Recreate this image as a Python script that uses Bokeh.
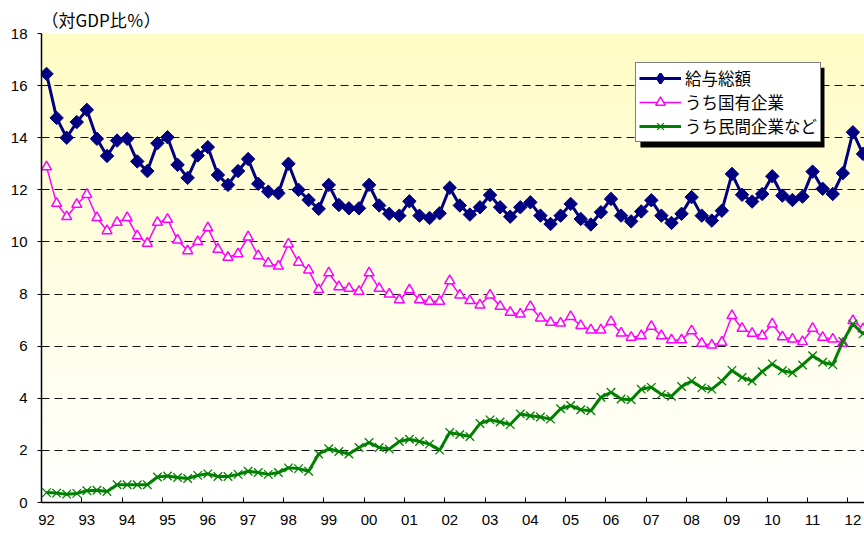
import numpy as np
from bokeh.plotting import figure
from bokeh.models import Range1d, FixedTicker, Legend, LegendItem, BoxAnnotation
from bokeh.embed import file_html
from bokeh.resources import INLINE

# ---- data (quarterly, 1992Q1 .. 2012Q2) ----
years = ["92", "93", "94", "95", "96", "97", "98", "99", "00", "01", "02",
         "03", "04", "05", "06", "07", "08", "09", "10", "11", "12"]
quarters = [f"{y}Q{q}" for y in years for q in (1, 2, 3, 4)][:82]

total = [16.45, 14.76, 14.0, 14.6, 15.07, 13.96, 13.3, 13.89, 13.96, 13.09,
         12.72, 13.79, 14.02, 12.96, 12.46, 13.32, 13.64, 12.57, 12.19, 12.72,
         13.18, 12.23, 11.93, 11.87, 13.0, 12.0, 11.61, 11.27, 12.19, 11.42,
         11.29, 11.29, 12.19, 11.4, 11.08, 11.01, 11.56, 11.01, 10.92, 11.1,
         12.08, 11.4, 11.05, 11.33, 11.8, 11.33, 10.97, 11.33, 11.52, 11.01,
         10.69, 11.01, 11.46, 10.88, 10.67, 11.14, 11.65, 11.01, 10.79, 11.17,
         11.6, 11.01, 10.73, 11.08, 11.72, 11.01, 10.82, 11.2, 12.61, 11.81,
         11.55, 11.84, 12.52, 11.78, 11.61, 11.74, 12.7, 12.04, 11.84, 12.64,
         14.21, 13.38]

state = [12.88, 11.48, 10.97, 11.44, 11.82, 10.93, 10.43, 10.75, 10.93, 10.23,
         9.95, 10.75, 10.87, 10.07, 9.66, 10.01, 10.54, 9.72, 9.41, 9.54,
         10.19, 9.47, 9.19, 9.07, 9.92, 9.22, 8.92, 8.17, 8.81, 8.28,
         8.22, 8.1, 8.81, 8.22, 8.0, 7.78, 8.16, 7.78, 7.72, 7.72,
         8.51, 7.96, 7.75, 7.58, 7.96, 7.53, 7.3, 7.23, 7.52, 7.08,
         6.91, 6.88, 7.13, 6.79, 6.62, 6.62, 6.94, 6.5, 6.34, 6.4,
         6.76, 6.4, 6.24, 6.24, 6.59, 6.11, 6.04, 6.15, 7.17, 6.68,
         6.49, 6.4, 6.85, 6.36, 6.27, 6.17, 6.68, 6.34, 6.27, 6.11,
         6.98, 6.66]

private = [0.38, 0.36, 0.32, 0.35, 0.45, 0.47, 0.42, 0.68, 0.68, 0.68,
           0.68, 0.98, 1.02, 0.96, 0.92, 1.04, 1.1, 1.0, 1.0, 1.08,
           1.2, 1.15, 1.08, 1.15, 1.33, 1.3, 1.2, 1.86, 2.06, 1.96,
           1.86, 2.11, 2.3, 2.11, 2.05, 2.34, 2.43, 2.34, 2.24, 2.01,
           2.69, 2.61, 2.53, 3.03, 3.17, 3.09, 2.99, 3.4, 3.33, 3.28,
           3.2, 3.6, 3.72, 3.56, 3.52, 4.04, 4.23, 3.97, 3.94, 4.35,
           4.42, 4.15, 4.08, 4.45, 4.66, 4.4, 4.35, 4.66, 5.07, 4.8,
           4.66, 5.02, 5.32, 5.06, 4.98, 5.28, 5.63, 5.38, 5.29, 6.18,
           6.85, 6.47]

series_names = ["給与総額", "うち国有企業", "うち民間企業など"]
y_ticks = [0, 2, 4, 6, 8, 10, 12, 14, 16, 18]
unit_label = "（対GDP比％）"

x = list(range(len(quarters)))

p = figure(width=864, height=536, output_backend="svg", toolbar_location=None,
           x_range=Range1d(-0.5, 81.15), y_range=Range1d(0, 18),
           min_border_left=41, min_border_right=0, min_border_top=33,
           min_border_bottom=34)
p.background_fill_color = "white"
p.border_fill_color = "white"
p.outline_line_color = None

# background gradient (light yellow at top -> white at bottom)
n = 470
t = np.linspace(0.0, 1.0, n)[:, None]
top_c = np.array([255, 252, 196])
bot_c = np.array([255, 255, 255])
cols = (bot_c * (1 - t) + top_c * t).round().astype(np.uint8)
img = np.empty((n, 1), dtype=np.uint32)
view = img.view(dtype=np.uint8).reshape((n, 1, 4))
view[:, 0, 0] = cols[:, 0]
view[:, 0, 1] = cols[:, 1]
view[:, 0, 2] = cols[:, 2]
view[:, 0, 3] = 255
bg = p.image_rgba(image=[img], x=-0.5, y=0, dw=82, dh=18)
bg.level = "image"

# grid
p.xgrid.grid_line_color = None
p.ygrid.grid_line_color = "#111111"
p.ygrid.grid_line_dash = "8 5"
p.ygrid.grid_line_width = 1

# y axis
p.yaxis.ticker = FixedTicker(ticks=y_ticks)
p.yaxis.major_tick_out = 4
p.yaxis.major_tick_in = 0
p.yaxis.minor_tick_out = 0
p.yaxis.minor_tick_in = 0
p.yaxis.axis_line_width = 1.5
p.yaxis.axis_line_color = "black"
p.yaxis.major_label_text_font = "Liberation Sans"
p.yaxis.major_label_text_font_size = "15px"
p.yaxis.major_label_text_color = "black"
p.yaxis.major_label_standoff = 10

# x axis: labels at each Q1, ticks at year boundaries
label_pos = list(range(0, len(quarters), 4))
p.xaxis.ticker = FixedTicker(ticks=label_pos,
                             minor_ticks=[v - 0.5 for v in label_pos] + [label_pos[-1] + 3.5])
p.xaxis.major_label_overrides = {i: quarters[i][:2] for i in label_pos}
p.xaxis.major_tick_in = 0
p.xaxis.major_tick_out = 0
p.xaxis.minor_tick_in = 5
p.xaxis.minor_tick_out = 0
p.xaxis.minor_tick_line_color = "black"
p.xaxis.minor_tick_line_width = 1
p.xaxis.axis_line_width = 1.5
p.xaxis.axis_line_color = "black"
p.xaxis.major_label_text_font = "Liberation Sans"
p.xaxis.major_label_text_font_size = "15px"
p.xaxis.major_label_text_color = "black"
p.xaxis.major_label_standoff = 12

# title
p.title.text = unit_label
p.title.align = "left"
p.title.text_font = "Noto Sans CJK JP"
p.title.text_font_size = "17px"
p.title.text_font_style = "normal"
p.title.text_color = "black"
p.title.offset = 0
p.title.standoff = 3

# series
navy, magenta, green = "#000080", "#FF00FF", "#008000"
l1 = p.line(x, total, line_color=navy, line_width=3)
s1 = p.scatter(x, total, marker="square", size=9.5, angle=np.pi / 4,
               fill_color=navy, line_color=navy)
l2 = p.line(x, state, line_color=magenta, line_width=1.5)
s2 = p.scatter(x, state, marker="triangle", size=10, fill_color="white",
               line_color=magenta, line_width=1.5)
l3 = p.line(x, private, line_color=green, line_width=3)
s3 = p.scatter(x, private, marker="x", size=12, line_color=green, line_width=1.3)

# legend-only diamond proxy (NaN data -> nothing drawn in the plot)
proxy = p.scatter([np.nan], [np.nan], marker="diamond", size=10,
                  fill_color=navy, line_color=navy, line_width=2.5)

# legend shadow
shadow = BoxAnnotation(left=58.92, right=77.18, top=16.69, bottom=13.62,
                       fill_color="black", fill_alpha=1, line_color=None)
p.add_layout(shadow)

legend = Legend(items=[LegendItem(label=series_names[0], renderers=[l1, proxy]),
                       LegendItem(label=series_names[1], renderers=[l2, s2]),
                       LegendItem(label=series_names[2], renderers=[l3, s3])],
                location=(594, 360))
legend.label_text_font = "Noto Sans CJK JP"
legend.label_text_font_size = "16.5px"
legend.label_text_color = "black"
legend.glyph_width = 42
legend.glyph_height = 24
legend.label_standoff = 4
legend.spacing = 0
legend.padding = 3
legend.margin = 0
legend.border_line_color = "black"
legend.border_line_width = 1.5
legend.background_fill_color = "white"
legend.background_fill_alpha = 1
p.add_layout(legend)

open("out.html", "w").write(file_html(p, INLINE))
